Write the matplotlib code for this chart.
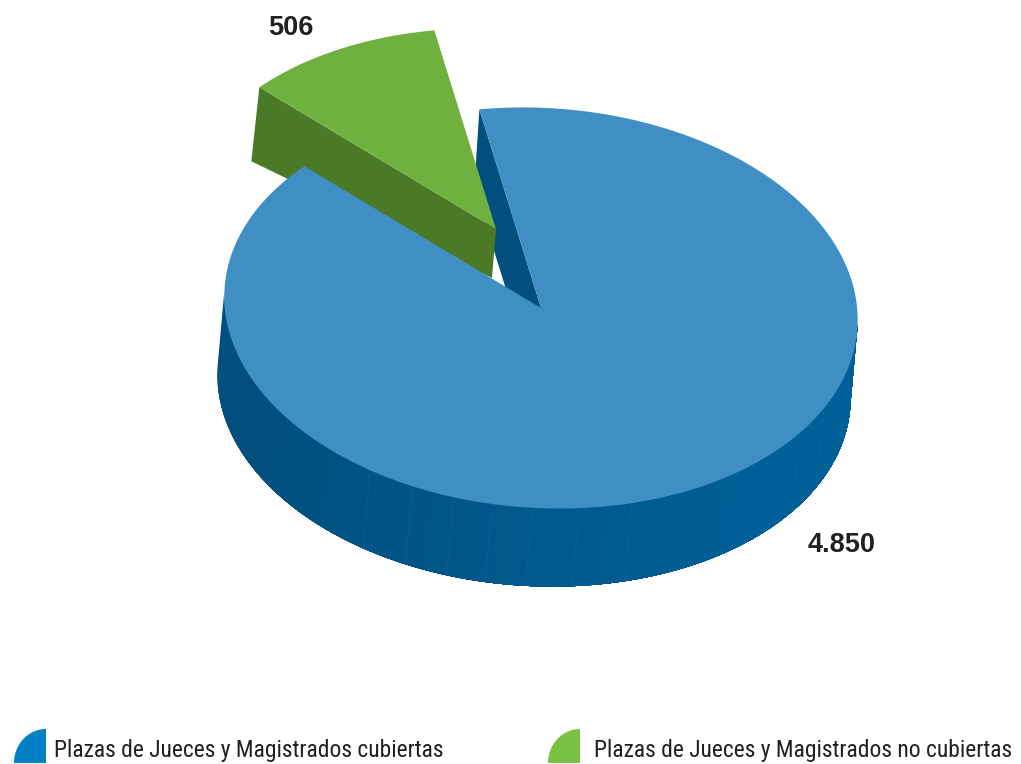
import numpy as np
import matplotlib
matplotlib.use("Agg")
import matplotlib.pyplot as plt
from matplotlib.colors import to_rgb

# datos del grafico
labels = ["Plazas de Jueces y Magistrados cubiertas", "Plazas de Jueces y Magistrados no cubiertas"]
values = [4850, 506]
value_labels = ["4.850", "506"]
legend_colors = ["#0081c6", "#7ac143"]

# geometria de la tarta (en pixeles de la imagen)
cx, cy = 541, 308
a, b = 317, 200
tilt = np.radians(3.5)
depth = np.array([-7, 78])
start = 105


def warp(t):
    # escorzo de la vista 3D
    return t + 2.8 * np.sin(np.radians(2 * (t - 122)))


def rim(t, center=(cx, cy)):
    t = np.radians(warp(np.asarray(t, dtype=float)))
    x = a * np.cos(t) * np.cos(tilt) + b * np.sin(t) * np.sin(tilt)
    y = a * np.cos(t) * np.sin(tilt) - b * np.sin(t) * np.cos(tilt)
    return np.column_stack([center[0] + x, center[1] + y])


share = 360 * values[1] / sum(values)
green_start, green_end = start, start + share

fig = plt.figure(figsize=(10.21, 7.64), dpi=100)
ax = fig.add_axes([0, 0, 1, 1])
ax.set_xlim(0, 1021)
ax.set_ylim(764, 0)
ax.axis("off")

# pared lateral azul: cada tramo llega hasta el final para no dejar rayas
c0, c1 = np.array(to_rgb("#004f7f")), np.array(to_rgb("#006097"))
end = 358
for t0 in np.arange(177, end, 3.0):
    tt = np.linspace(t0, end, int(end - t0) + 2)
    p = rim(tt)
    f = np.clip((t0 - 215) / 100, 0, 1)
    col = c0 + (c1 - c0) * f
    ax.fill(*np.vstack([p, p[::-1] + depth]).T, color=col, lw=0, zorder=1)

# costuras del lateral
for t in [242, 251, 259, 266, 273, 281, 290, 325, 333]:
    p = rim([t])[0]
    ax.plot(*np.vstack([p, p + depth]).T, color="#3f8fc5", lw=0.5, alpha=0.18, zorder=1.5)

# cara de corte azul
apex = np.array([cx, cy])
p = rim([green_start])[0]
ax.fill(*np.vstack([p, apex, apex + [-5, 78], p + [-5, 78]]).T, color="#004f7f", lw=0, zorder=2)

# porcion verde separada
g_center = (496, 229)
g_apex = np.array(g_center)
g_rim = rim(np.linspace(green_start, green_end, 40), g_center)
ax.fill(*np.vstack([g_rim[-1], g_rim[-1] + [-8, 74], g_apex + [-4, 49], g_apex]).T,
        color="#4a7a28", lw=0, zorder=3)
ax.fill(*np.vstack([g_apex, g_rim]).T, color="#70b03e", lw=0, zorder=4)

# cara superior azul
t_blue = np.linspace(green_end, green_start + 360, 400)
ax.fill(*np.vstack([apex, rim(t_blue)]).T, color="#3f8fc5", lw=0, zorder=5)

# etiquetas de valores
txt = dict(family="Liberation Sans", weight="bold", fontsize=19.5, color="#231f20",
           ha="center", va="center")
ax.text(842, 545, value_labels[0], **txt)
ax.text(291, 28, value_labels[1], **txt)

# leyenda
for x_icon, x_text, col, lab in zip([14, 548], [54, 594], legend_colors, labels):
    t = np.radians(np.linspace(90, 180, 40))
    ex = x_icon + 32 + 32 * np.cos(t)
    ey = 763 - 34 * np.sin(t)
    ax.fill(np.r_[x_icon + 32, ex], np.r_[763, ey], color=col, lw=0)
    ax.text(x_text, 750, lab, family="Roboto Condensed", fontsize=16.9, color="#231f20",
            ha="left", va="center")

fig.savefig("out.png", dpi=100)
